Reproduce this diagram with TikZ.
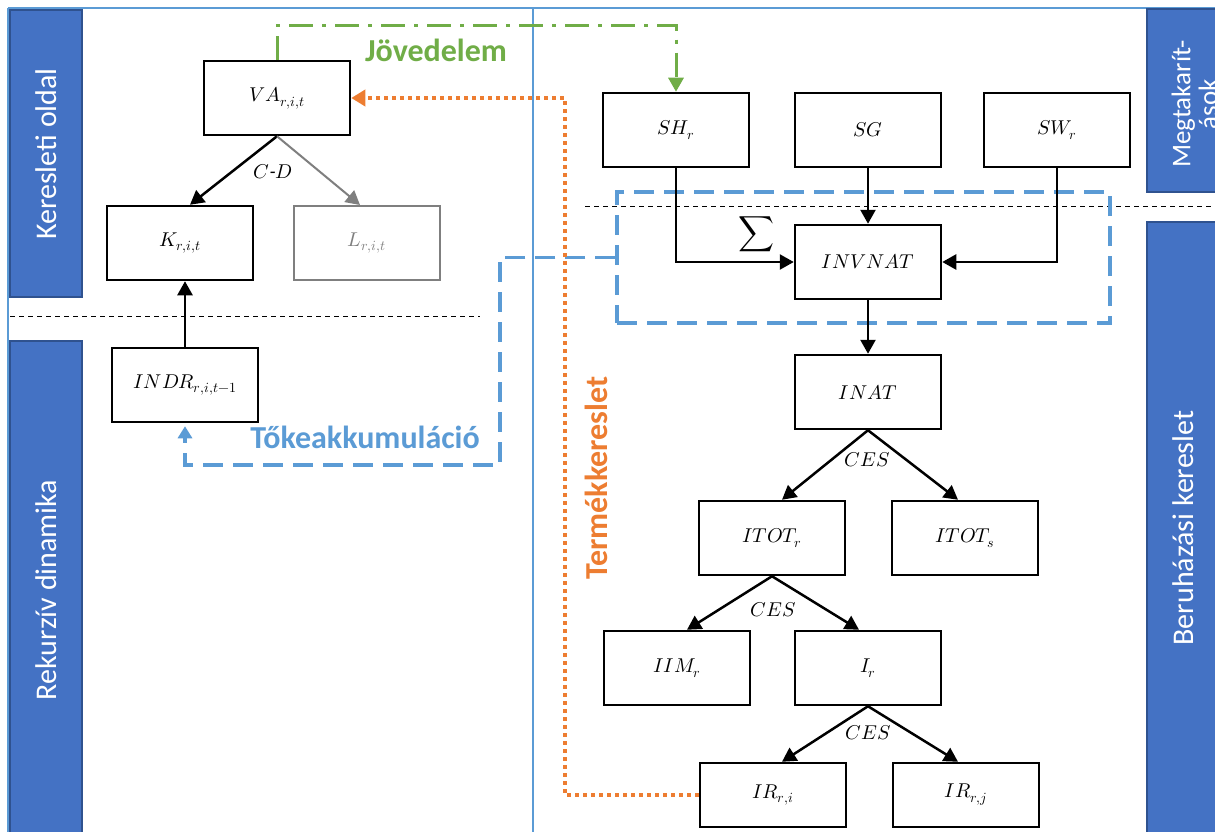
\documentclass[tikz,border=0pt]{standalone}
\usepackage{unicode-math}
\setmainfont{Carlito}
\setmathfont{Latin Modern Math}
\usetikzlibrary{arrows.meta,calc}
\definecolor{barblue}{HTML}{4472C4}
\definecolor{baredge}{HTML}{2F528F}
\definecolor{lineblue}{HTML}{5B9BD5}
\definecolor{incgreen}{HTML}{70AD47}
\definecolor{prodorange}{HTML}{ED7D31}
\definecolor{labgray}{HTML}{7F7F7F}
\begin{document}
\begin{tikzpicture}[x=1pt,y=-1pt,
  box/.style={draw,line width=2.5pt,minimum width=146pt,minimum height=74pt,inner sep=0pt,
    font=\fontsize{20}{22}\selectfont},
  graybox/.style={box,draw=labgray,text=labgray,line width=2pt},
  lowbox/.style={box,minimum height=64pt},
  arr/.style={line width=2.5pt,-{Triangle[length=14pt,width=15pt]}},
  grayarr/.style={arr,draw=labgray,line width=2pt,-{Triangle[length=14pt,width=15pt,fill=labgray]}},
  bar/.style={fill=barblue,draw=baredge,line width=1.5pt},
  bartext/.style={rotate=90,text=white,font=\fontsize{30}{32}\selectfont,align=center},
  frameline/.style={draw=lineblue,line width=2pt},
  sepline/.style={line width=1pt,dash pattern=on 5pt off 4pt},
  lab/.style={font=\fontsize{20}{22}\selectfont,inner sep=1pt},
  income/.style={draw=incgreen,line width=3pt,dash pattern=on 24pt off 9pt on 4pt off 9pt,
    -{Triangle[length=14pt,width=15pt,fill=incgreen]}},
  accum/.style={draw=lineblue,line width=3.5pt,dash pattern=on 20pt off 10pt,
    -{Triangle[length=12pt,width=14pt,fill=lineblue]}},
  prod/.style={draw=prodorange,line width=3.5pt,dash pattern=on 3.5pt off 4.5pt,
    -{Triangle[length=14pt,width=16pt,fill=prodorange]}},
  flowlab/.style={font=\fontsize{32}{34}\selectfont\bfseries,inner sep=0pt}]
\useasboundingbox (0,0) rectangle (1215,832);
\clip (0,0) rectangle (1215,832);
\fill[white] (0,0) rectangle (1215,832);

% frame and column divider
\draw[frameline] (8,8) -- (1230,8);
\draw[frameline] (8,8) -- (8,845);
\draw[frameline] (533,8) -- (533,845);

% side bars
\draw[bar] (10,10) rectangle (82,297);
\node[bartext] (barkeres) at (46,154) {Keresleti oldal};
\draw[bar] (10,341) rectangle (82,850);
\node[bartext] (barrek) at (46,590) {Rekurzív dinamika};
\draw[bar] (1147,9) rectangle (1225,192);
\node[bartext,anchor=north,font=\fontsize{27}{27}\selectfont] (barmeg) at (1168,104) {Megtakarít-\\ások};
\draw[bar] (1147,222) rectangle (1225,850);
\node[bartext] (barberu) at (1183,528) {Beruházási kereslet};

% block separators
\draw[sepline] (10,316) -- (480,316);
\draw[sepline] (585,206) -- (1215,206);

% demand side
\node[box] (va) at (277,98) {$VA_{r,i,t}$};
\node[box] (k) at (180,243) {$K_{r,i,t}$};
\node[graybox] (l) at (367,243) {$L_{r,i,t}$};
\node[box] (indr) at (185,385) {$INDR_{r,i,t-1}$};

% savings and investment
\node[box] (sh) at (676,130) {$SH_r$};
\node[box] (sg) at (868,130) {$SG$};
\node[box] (sw) at (1057,130) {$SW_r$};
\node[box] (invnat) at (868,262) {$INVNAT$};
\node[box] (inat) at (868,392) {$INAT$};
\node[box] (itotr) at (772,538) {$ITOT_r$};
\node[box] (itots) at (965,538) {$ITOT_s$};
\node[box] (iim) at (677,668) {$IIM_r$};
\node[box] (ir) at (868,668) {$I_r$};
\node[lowbox] (irri) at (773,795) {$IR_{r,i}$};
\node[lowbox] (irrj) at (966,795) {$IR_{r,j}$};

% investment group
\node[draw=lineblue,line width=3.5pt,dash pattern=on 20pt off 10pt,
  minimum width=493pt,minimum height=131pt,inner sep=0pt] (invgroup) at (863.5,257.5) {};

% connectors
\draw[arr] (va.south) -- ($(k.north)+(10,0)$);
\draw[grayarr] (va.south) -- ($(l.north)+(-7,0)$);
\node[lab] (cd) at (273,172) {$C$\textit{-}$D$};
\draw[arr] (indr.north) -- (indr.north |- k.south);

\draw[arr] (sh.south) |- (invnat.west);
\draw[arr] (sg.south) -- (invnat.north);
\draw[arr] (sw.south) |- (invnat.east);
\node[font=\fontsize{25}{27}\selectfont,inner sep=0pt] (sigma) at (757,234) {$\displaystyle\sum$};
\draw[arr] (invnat.south) -- (inat.north);

\draw[arr] (inat.south) -- ($(itotr.north)+(10,0)$);
\draw[arr] (inat.south) -- ($(itots.north)+(-7,0)$);
\node[lab] (ces1) at (867,460) {$CES$};
\draw[arr] (itotr.south) -- ($(iim.north)+(10,0)$);
\draw[arr] (itotr.south) -- ($(ir.north)+(-9,0)$);
\node[lab] (ces2) at (773,610) {$CES$};
\draw[arr] (ir.south) -- ($(irri.north)+(9,0)$);
\draw[arr] (ir.south) -- ($(irrj.north)+(-8,0)$);
\node[lab] (ces3) at (868,733) {$CES$};

% income flow
\draw[income] (va.north) -- ++(0,-34) -| (sh.north);
\node[flowlab,text=incgreen] (jov) at (436,50) {Jövedelem};

% capital accumulation
\coordinate (acc1) at (500,257.5);
\coordinate (acc2) at (500,465);
\draw[accum] (invgroup.west) -- (acc1) -- (acc2) -| ($(indr.south)+(0,3)$);
\node[flowlab,text=lineblue] (tok) at (365,437) {Tőkeakkumuláció};

% product demand
\coordinate (pd) at (565,98);
\draw[prod] (irri.west) -| (pd) -- (va.east);
\node[flowlab,text=prodorange,rotate=90] (term) at (596,478) {Termékkereslet};
\end{tikzpicture}
\end{document}
